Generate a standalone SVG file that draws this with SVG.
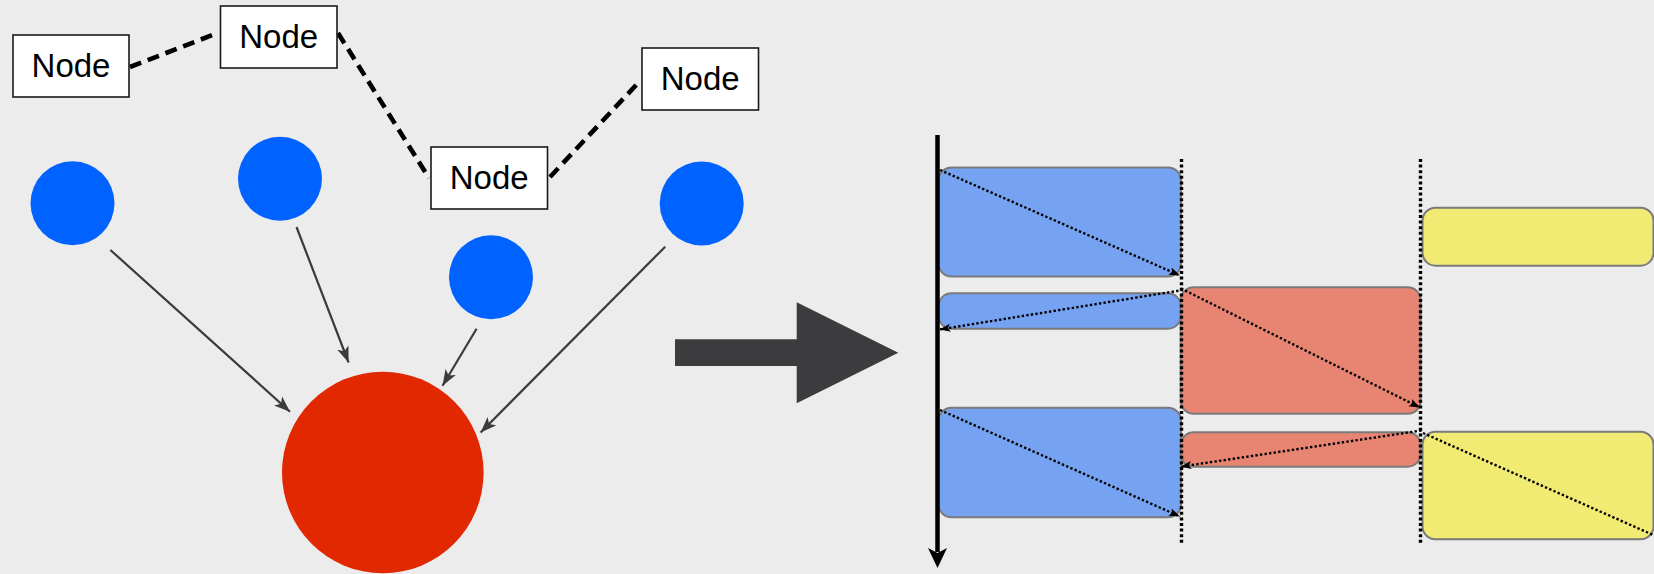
<svg xmlns="http://www.w3.org/2000/svg" width="1654" height="574" viewBox="0 0 1654 574">
<style>
.box{fill:#ffffff;stroke:#1a1a1a;stroke-width:1.6}
.lbl{font-family:"Liberation Sans",Arial,sans-serif;font-size:33px;fill:#000;text-anchor:middle}
.dash{fill:none;stroke:#000;stroke-width:4.6;stroke-dasharray:12 7}
.blue{fill:#0062ff}
.red{fill:#e22800}
.arr{fill:none;stroke:#3a3b3d;stroke-width:2.2;marker-end:url(#ag)}
.rb{fill:#75a3f2;stroke:#7a7a7a;stroke-width:2}
.rr{fill:#e88572;stroke:#7a7a7a;stroke-width:2}
.ry{fill:#f1eb74;stroke:#7a7a7a;stroke-width:2}
.vdot{fill:none;stroke:#000;stroke-width:3.4;stroke-dasharray:3 2.6}
.ddot{fill:none;stroke:#000;stroke-width:2.4;stroke-dasharray:2.4 2.2}
.ddotA{fill:none;stroke:#000;stroke-width:2.4;stroke-dasharray:2.4 2.2;marker-end:url(#as)}
</style>
<defs>
<marker id="ag" markerUnits="userSpaceOnUse" markerWidth="18" markerHeight="14" refX="16" refY="6" orient="auto" viewBox="0 0 18 12">
<path d="M0,0 L16,6 L0,12 L4,6 z" fill="#3a3b3d"/>
</marker>
<marker id="as" markerUnits="userSpaceOnUse" markerWidth="12" markerHeight="10" refX="11" refY="4" orient="auto" viewBox="0 0 12 8">
<path d="M0,0 L11,4 L0,8 L2.5,4 z" fill="#000"/>
</marker>
</defs>
<rect x="0" y="0" width="1654" height="574" fill="#ececec"/>

<g id="connectors">
<path class="dash" d="M130,67 L215,34"/>
<path class="dash" d="M338,33 L429,178"/>
<path class="dash" d="M550,177 L639,82"/>
<path class="arr" d="M110.4,250 L290,411.7"/>
<path class="arr" d="M296.5,227 L348.6,362.5"/>
<path class="arr" d="M476.6,328.7 L442.5,385.7"/>
<path class="arr" d="M665.2,246.7 L480.6,432.5"/>
</g>

<g id="node-a"><rect class="box" x="13" y="35" width="116" height="62"/><text class="lbl" x="71" y="77">Node</text></g>
<g id="node-b"><rect class="box" x="220.5" y="6" width="116.5" height="62"/><text class="lbl" x="278.7" y="48">Node</text></g>
<g id="node-c"><rect class="box" x="642" y="48" width="116.5" height="62"/><text class="lbl" x="700.2" y="90">Node</text></g>
<g id="node-d"><rect class="box" x="431" y="147" width="116.5" height="62"/><text class="lbl" x="489.2" y="189">Node</text></g>

<g id="circle-1"><circle class="blue" cx="72.5" cy="203.3" r="42"/></g>
<g id="circle-2"><circle class="blue" cx="280" cy="178.7" r="42"/></g>
<g id="circle-3"><circle class="blue" cx="491" cy="277.3" r="42"/></g>
<g id="circle-4"><circle class="blue" cx="701.7" cy="203.5" r="42"/></g>
<g id="circle-red"><circle class="red" cx="382.8" cy="472.5" r="100.8"/></g>

<g id="big-arrow"><path d="M675,339.3 L796.7,339.3 L796.7,302.3 L898.3,352.7 L796.7,403.3 L796.7,366 L675,366 z" fill="#3c3c3e"/></g>

<g id="lane-boxes">
<rect class="rb" x="938.5" y="167.5" width="242.5" height="109" rx="13"/>
<rect class="rb" x="938.5" y="293.3" width="242.5" height="35.4" rx="13"/>
<rect class="rb" x="938.5" y="407.7" width="242.5" height="109.6" rx="13"/>
<rect class="rr" x="1180.7" y="287.3" width="240" height="126.5" rx="13"/>
<rect class="rr" x="1180.7" y="432.3" width="240" height="34.4" rx="13"/>
<rect class="ry" x="1422.5" y="207.7" width="231" height="58" rx="13"/>
<rect class="ry" x="1422.5" y="431.7" width="231" height="107.6" rx="13"/>
</g>

<g id="lane-lines">
<path class="vdot" d="M1181.5,159 L1181.5,543"/>
<path class="vdot" d="M1420.5,159 L1420.5,543"/>
<path d="M937.5,135 L937.5,552" fill="none" stroke="#000" stroke-width="4.5"/>
<path d="M937.5,568 L928,548 L937.5,553 L947,548 z" fill="#000"/>
</g>

<g id="flow-connectors">
<path class="ddotA" d="M940,170 L1180,275.5"/>
<path class="ddotA" d="M1183,290 L939.5,329.5"/>
<path class="ddotA" d="M1181,288.5 L1420,407.5"/>
<path class="ddotA" d="M1421.5,430.5 L1180.5,466.7"/>
<path class="ddotA" d="M940,410 L1180,516.5"/>
<path class="ddot" d="M1423,433 L1660,538"/>
</g>
</svg>
